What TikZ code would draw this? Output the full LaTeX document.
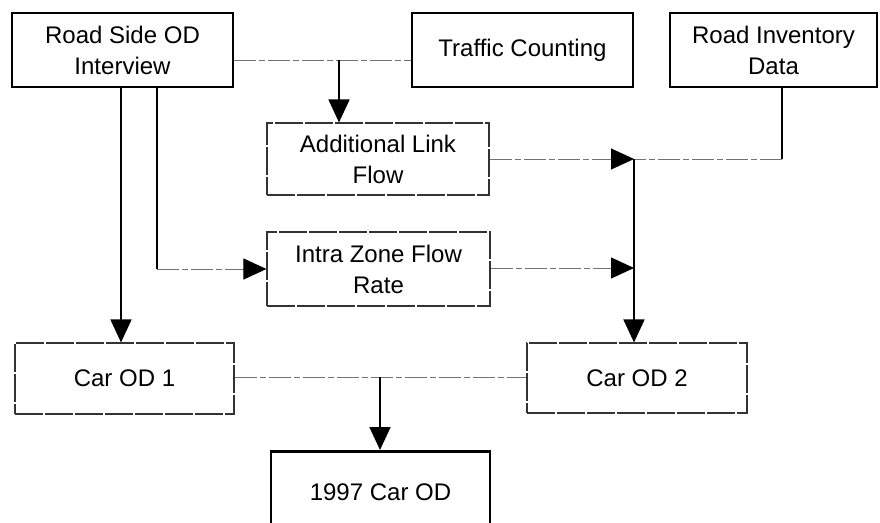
\documentclass[tikz,border=0pt]{standalone}
\usepackage{fontspec}
\setmainfont{Liberation Sans}
\usetikzlibrary{arrows.meta}
\begin{document}
\begin{tikzpicture}[x=1pt,y=-1pt,
  every node/.style={font=\fontsize{24}{31}\selectfont, align=center, inner sep=0pt},
  thickbox/.style={draw=black, line width=2.6pt, rectangle},
  thinbox/.style={draw=black!80, line width=1.1pt, rectangle, dash pattern=on 28pt off 2pt},
  vline/.style={draw=black, line width=1.7pt},
  hline/.style={draw=black!55, line width=1pt, dash pattern=on 22pt off 3pt on 6pt off 3pt},
  arr/.style={-{Triangle[length=23pt,width=21pt,color=black]}}
]
\useasboundingbox (0,0) rectangle (880,522);
\clip (0,0) rectangle (880,522);
% nodes
\node[thickbox, minimum width=221pt, minimum height=74pt] (rs) at (122.5,50) {Road Side OD\\Interview};
\node[thickbox, minimum width=221pt, minimum height=74pt] (tc) at (522.5,50) {Traffic Counting};
\node[thickbox, minimum width=207pt, minimum height=74pt] (ri) at (773.5,50) {Road Inventory\\Data};
\node[thinbox, minimum width=222pt, minimum height=72pt] (al) at (378,159) {Additional Link\\Flow};
\node[thinbox, minimum width=223pt, minimum height=74pt] (iz) at (378.5,269) {Intra Zone Flow\\Rate};
\node[thinbox, minimum width=219pt, minimum height=71pt] (c1) at (124.5,378.5) {Car OD 1};
\node[thinbox, minimum width=220pt, minimum height=70pt] (c2) at (637,378) {Car OD 2};
\node[thickbox, minimum width=219pt, minimum height=84pt, anchor=north] (f) at (380.5,450) {};
\node (ft) at (380.5,492) {1997 Car OD};
% junction coordinates
\coordinate (j1) at (339,60);
\coordinate (j2) at (782,159);
\coordinate (j3) at (634,159);
\coordinate (j4) at (634,268);
\coordinate (j5) at (380,377);
\coordinate (v1) at (121,0);
\coordinate (v2) at (157,0);
% connectors
\draw[hline] (rs.east |- j1) -- (tc.west |- j1);
\draw[vline, arr] (j1) -- (j1 |- al.north);
\draw[vline] (ri.south -| j2) -- (j2);
\draw[hline] (j2) -- (j3);
\draw[hline, arr] (al.east |- j3) -- (j3);
\draw[hline, arr] (iz.east |- j4) -- (j4);
\draw[vline, arr] (j3) -- (j3 |- c2.north);
\draw[vline, arr] (rs.south -| v1) -- (c1.north -| v1);
\draw[vline] (rs.south -| v2) -- (v2 |- iz.west);
\draw[hline, arr] (v2 |- iz.west) -- (iz.west);
\draw[hline] (c1.east |- j5) -- (c2.west |- j5);
\draw[vline, arr] (j5) -- (f.north -| j5);
\end{tikzpicture}
\end{document}
